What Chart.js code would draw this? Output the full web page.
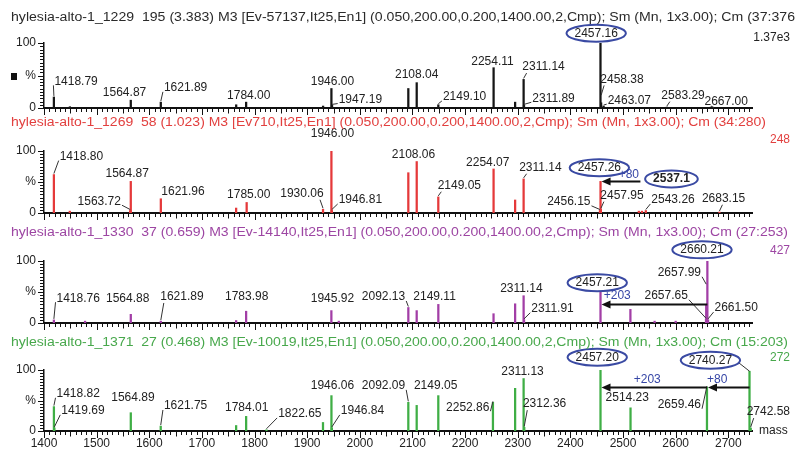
<!DOCTYPE html>
<html><head><meta charset="utf-8">
<script src="https://cdn.jsdelivr.net/npm/chart.js@4.4.0/dist/chart.umd.min.js"></script>
<style>
html,body{margin:0;padding:0;background:#fff;width:796px;height:449px;overflow:hidden;position:relative;}
canvas{position:absolute;left:0;top:0;}
.t{position:absolute;white-space:pre;font-family:"Liberation Sans",Arial,sans-serif;font-size:12px;line-height:14px;transform-origin:0 50%;}
.r{position:absolute;white-space:nowrap;font-family:"Liberation Sans",Arial,sans-serif;font-size:12px;line-height:14px;text-align:right;right:6px;}
</style></head><body>
<div id="root"></div>
<script>
// ---------------- data ----------------
const xTickLabels = [1400,1500,1600,1700,1800,1900,2000,2100,2200,2300,2400,2500,2600,2700];
const yTickValues = [0,50,100];
const yTickLabels = ['0','%','100'];

const titles = [
 'hylesia-alto-1_1229  195 (3.383) M3 [Ev-57137,It25,En1] (0.050,200.00,0.200,1400.00,2,Cmp); Sm (Mn, 1x3.00); Cm (37:376',
 'hylesia-alto-1_1269  58 (1.023) M3 [Ev710,It25,En1] (0.050,200.00,0.200,1400.00,2,Cmp); Sm (Mn, 1x3.00); Cm (34:280)',
 'hylesia-alto-1_1330  37 (0.659) M3 [Ev-14140,It25,En1] (0.050,200.00,0.200,1400.00,2,Cmp); Sm (Mn, 1x3.00); Cm (27:253)',
 'hylesia-alto-1_1371  27 (0.468) M3 [Ev-10019,It25,En1] (0.050,200.00,0.200,1400.00,2,Cmp); Sm (Mn, 1x3.00); Cm (15:203)'
];
const intensityMax = ['1.37e3','248','427','272'];

const masses1 = [1418.79,1449.2,1564.87,1621.89,1765.1,1784.00,1930.2,1946.00,1947.19,2092.1,2108.04,2149.10,2254.11,2295.0,2311.14,2311.89,2457.16,2458.38,2463.07,2583.29,2667.00];
const intens1 = [17,2,12,9,5,9,3,30,4,30,39,5,62,9,44,4,100,8,3,1.5,1.5];
const labels1 = ['1418.79','1564.87','1621.89','1784.00','1946.00','1947.19','2108.04','2149.10','2254.11','2311.14','2311.89','2457.16','2458.38','2463.07','2583.29','2667.00'];

const masses2 = [1418.80,1449.0,1563.72,1564.87,1621.96,1765.0,1785.00,1930.06,1946.00,1946.81,2092.1,2108.06,2149.05,2254.07,2295.0,2311.14,2456.15,2457.26,2457.95,2530.0,2536.0,2543.26,2683.15];
const intens2 = [62,3,4,51,23,8,17,6,100,4,65,83,26,71,21,55,4,51,6,3,3,4,1.5];
const labels2 = ['1418.80','1564.87','1563.72','1621.96','1785.00','1930.06','1946.00','1946.81','2108.06','2149.05','2254.07','2311.14','2457.26','2537.1','2456.15','2457.95','2543.26','2683.15'];

const masses3 = [1418.76,1478.0,1564.88,1621.89,1765.0,1783.98,1945.92,1960.0,2092.13,2108.0,2149.11,2254.0,2295.0,2311.14,2311.91,2457.21,2514.0,2560.0,2600.0,2657.65,2657.99,2660.21,2661.50];
const intens3 = [5,3,14,3,4,19,20,3,25,20,30,15,31,44,5,53,22,3,3,6,30,100,5];
const labels3 = ['1418.76','1564.88','1621.89','1783.98','1945.92','2092.13','2149.11','2311.14','2311.91','2457.21','2657.65','2657.99','2660.21','2661.50'];

const masses4 = [1418.82,1419.69,1564.89,1621.75,1765.0,1784.01,1822.65,1930.0,1946.06,1946.84,2092.09,2108.0,2149.05,2252.86,2295.0,2311.13,2312.36,2457.20,2514.23,2659.46,2740.27,2742.58];
const intens4 = [40,5,30,8,9,24,2,14,58,5,47,42,58,47,70,86,6,100,38,72,98,5];
const labels4 = ['1418.82','1419.69','1564.89','1621.75','1784.01','1822.65','1946.06','1946.84','2092.09','2149.05','2252.86','2311.13','2312.36','2457.20','2514.23','2659.46','2740.27','2742.58'];

// mass differences marked with arrows: [from peak, to peak, label]
const shifts2 = [[2537.1,2457.26,'+80']];
const shifts3 = [[2660.21,2457.21,'+203']];
const shifts4 = [[2659.46,2457.20,'+203'],[2740.27,2659.46,'+80']];

// ---------------- layout (positions / styles) ----------------
const FONT = '"Liberation Sans", Arial, Helvetica, sans-serif';
const X_MIN = 1400, X_MAX = 2745;
const geom = [
 {top:43, bottom:108, titleY:17, maxY:37, titleW:784},
 {top:151, bottom:213, titleY:122, maxY:139, titleW:755},
 {top:261, bottom:323, titleY:232, maxY:250, titleW:777},
 {top:370, bottom:431, titleY:342, maxY:357, titleW:777}
];
const colors = ['#161616','#e5393a','#a23ea6','#3fae45'];
const titleColors = ['#2a2a2a','#e2403f','#9d46a3','#48a84c'];
// label placement: [centre mass, centre %, mode, leader-end %]
const place1 = [[1461,41,'leader'],[1553,23,''],[1669,31,'leader'],[1789,19,''],[1948,41,''],[2001,13,'leader'],[2108,51,''],[2199,17,'leader'],[2252,72,''],[2349,63,'leader'],[2368,15,'leader'],[2449,115,'ellipse'],[2498,44,'leader',18],[2512,12,'leader'],[2614,19,'leader'],[2696,10,'leader']];
const place2 = [[1471,91,'leader'],[1558,64,''],[1505,19,'leader'],[1664,35,''],[1789,29,''],[1890,31,'leader'],[1948,128,''],[2001,21,'leader'],[2102,94,''],[2189,44,'leader'],[2243,81,''],[2343,73,'leader'],[2455,73,'ellipse'],[2592,55,'ellipse bold'],[2397,18,'leader'],[2498,28,'leader'],[2595,21,'leader'],[2691,23,'leader']];
const place3 = [[1465,40,'leader'],[1559,40,''],[1662,42,'leader'],[1785,42,''],[1948,40,''],[2045,42,'leader'],[2142,42,''],[2307,56,''],[2366,23,'leader'],[2451,65,'ellipse'],[2582,44,'leader'],[2607,81,'leader',61],[2650,118,'ellipse'],[2715,24,'leader']];
const place4 = [[1465,61,'leader'],[1474,33,'leader'],[1569,54,''],[1669,41,'leader'],[1785,38,''],[1886,28,'leader'],[1948,74,''],[2005,33,'leader'],[2045,74,'leader'],[2144,74,''],[2205,39,'leader'],[2309,98,''],[2351,44,'leader'],[2451,121,'ellipse'],[2508,54,''],[2607,43,'leader'],[2666,116,'ellipse leader'],[2776,31,'leader']];
// shift arrow placement: [arrow %, text centre mass, text %, arrow start mass override]
const shiftPlace2 = [[51,2511,61,2533]];
const shiftPlace3 = [[31,2489,44]];
const shiftPlace4 = [[72,2546,84],[72,2679,84]];

const panels = [
 {masses:masses1,intens:intens1,labels:labels1,place:place1,shifts:[],shiftPlace:[]},
 {masses:masses2,intens:intens2,labels:labels2,place:place2,shifts:shifts2,shiftPlace:shiftPlace2},
 {masses:masses3,intens:intens3,labels:labels3,place:place3,shifts:shifts3,shiftPlace:shiftPlace3},
 {masses:masses4,intens:intens4,labels:labels4,place:place4,shifts:shifts4,shiftPlace:shiftPlace4}
];

const overlay = {
  id:'overlay',
  afterDraw(chart, args, opts){
    const p = panels[opts.idx];
    const ctx = chart.ctx, xs = chart.scales.x, ys = chart.scales.y;
    const X = v => xs.getPixelForValue(v), Y = v => ys.getPixelForValue(v);
    const base = Y(0);
    ctx.save();
    // minor / major tick marks
    ctx.strokeStyle = '#111'; ctx.lineWidth = 1;
    for (let v = X_MIN; v <= X_MAX; v += 10) {
      const len = v % 100 === 0 ? 6 : (v % 50 === 0 ? 4.5 : 3);
      const x = Math.round(X(v)) + 0.5;
      ctx.beginPath(); ctx.moveTo(x, base + 1); ctx.lineTo(x, base + 1 + len); ctx.stroke();
    }
    for (let v = 0; v <= 100; v += 5) {
      const len = v % 50 === 0 ? 5 : 3;
      const y = Math.round(Y(v)) + 0.5;
      ctx.beginPath(); ctx.moveTo(xs.left - 1, y); ctx.lineTo(xs.left - 1 - len, y); ctx.stroke();
    }
    // peak labels (ellipses drawn first so the shift text can sit on top of their edge)
    ctx.textAlign = 'center'; ctx.textBaseline = 'middle';
    p.labels.forEach((txt, i) => {
      const [cx, cy, mode, lend] = p.place[i];
      const tx = X(cx), ty = Y(cy);
      const bold = mode.indexOf('bold') >= 0;
      ctx.font = (bold ? 'bold ' : '') + '12px ' + FONT;
      const w = ctx.measureText(txt).width;
      const m = parseFloat(txt);
      const k = p.masses.indexOf(m);
      if (mode.indexOf('ellipse') >= 0) {
        const rx = w / 2 + 8, ry = 8.5;
        if (mode.indexOf('leader') >= 0 && k >= 0) {
          ctx.strokeStyle = '#333'; ctx.lineWidth = 1;
          ctx.beginPath(); ctx.moveTo(tx + rx - 2, ty + 2); ctx.lineTo(X(m), Y(p.intens[k])); ctx.stroke();
        }
        ctx.beginPath(); ctx.ellipse(tx, ty, rx, ry, 0, 0, Math.PI * 2);
        ctx.fillStyle = '#fff'; ctx.fill();
        ctx.strokeStyle = '#3a4aa3'; ctx.lineWidth = 2; ctx.stroke();
      } else if (mode.indexOf('leader') >= 0 && k >= 0) {
        const px = X(m), py = Y(lend !== undefined ? lend : p.intens[k]) - 1;
        const l = tx - w / 2, r = tx + w / 2;
        let sx, sy;
        if (px < l) { sx = l - 1; sy = ty + 4; }
        else if (px > r) { sx = r + 1; sy = ty + 4; }
        else { sx = px + (px < tx ? 3 : -3); sy = ty + 6; }
        ctx.strokeStyle = '#333'; ctx.lineWidth = 1;
        ctx.beginPath(); ctx.moveTo(sx, sy); ctx.lineTo(px, py); ctx.stroke();
      }
      ctx.fillStyle = '#222';
      ctx.fillText(txt, tx, ty);
    });
    // shift arrows
    p.shifts.forEach((s, i) => {
      const sp = p.shiftPlace[i];
      const x1 = X(sp[3] !== undefined ? sp[3] : s[0]), x2 = X(s[1]), y = Math.round(Y(sp[0])) + 0.5;
      ctx.strokeStyle = '#111'; ctx.fillStyle = '#111'; ctx.lineWidth = 2;
      ctx.beginPath(); ctx.moveTo(x1, y); ctx.lineTo(x2 + 6, y); ctx.stroke();
      ctx.beginPath(); ctx.moveTo(x2 + 1, y); ctx.lineTo(x2 + 10, y - 4); ctx.lineTo(x2 + 10, y + 4); ctx.closePath(); ctx.fill();
      ctx.font = '12px ' + FONT; ctx.fillStyle = '#3646a6'; ctx.textAlign = 'center'; ctx.textBaseline = 'middle';
      ctx.fillText(s[2], X(sp[1]), Y(sp[2]));
    });
    if (opts.idx === 3) {
      ctx.font = '12px ' + FONT; ctx.fillStyle = '#222'; ctx.textAlign = 'left'; ctx.textBaseline = 'middle';
      ctx.fillText('mass', xs.right + 7, base);
    }
    ctx.restore();
  }
};

const root = document.getElementById('root');
const RIGHT = 752;
panels.forEach((p, i) => {
  const g = geom[i];
  const cv = document.createElement('canvas');
  cv.width = 796; cv.height = 449; cv.style.width = '796px'; cv.style.height = '449px';
  root.appendChild(cv);
  const last = i === 3;
  const xh = last ? 18 : 0;
  new Chart(cv.getContext('2d'), {
    type: 'bar',
    data: { datasets: [{ data: p.masses.map((m, k) => ({ x: m, y: p.intens[k] })), backgroundColor: colors[i], borderWidth: 0, barThickness: 1.6, grouped: false }] },
    options: {
      responsive: false, animation: false, devicePixelRatio: 1, events: [],
      layout: { padding: { left: 0, right: 796 - RIGHT, top: g.top, bottom: 449 - g.bottom - xh } },
      plugins: { legend: { display: false }, tooltip: { enabled: false }, overlay: { idx: i } },
      scales: {
        x: {
          type: 'linear', min: X_MIN, max: X_MAX, offset: false,
          grid: { display: false, drawTicks: false, offset: false },
          border: { display: true, color: '#111', width: 2 },
          ticks: { display: last, color: '#222', font: { family: FONT, size: 12 }, padding: 5, maxRotation: 0, autoSkip: false,
                   callback: v => String(v) },
          afterBuildTicks: s => { s.ticks = xTickLabels.map(v => ({ value: v })); },
          afterFit: s => { s.height = xh; s.paddingLeft = 0; s.paddingRight = 0; }
        },
        y: {
          min: 0, max: 100,
          grid: { display: false, drawTicks: false },
          border: { display: true, color: '#111', width: 1.5 },
          ticks: { color: '#222', font: { family: FONT, size: 12 }, padding: 8,
                   callback: v => { const j = yTickValues.indexOf(v); return j >= 0 ? yTickLabels[j] : ''; } },
          afterBuildTicks: s => { s.ticks = yTickValues.map(v => ({ value: v })); },
          afterFit: s => { s.width = 44; s.paddingTop = 0; s.paddingBottom = 0; }
        }
      }
    },
    plugins: [overlay]
  });
  const t = document.createElement('div');
  t.className = 't'; t.textContent = titles[i]; t.style.color = titleColors[i];
  t.style.left = '11px'; t.style.top = (g.titleY - 7) + 'px';
  document.body.appendChild(t);
  const w = t.getBoundingClientRect().width;
  t.style.transform = 'scaleX(' + (g.titleW / w) + ')';
  const r = document.createElement('div');
  r.className = 'r'; r.textContent = intensityMax[i]; r.style.color = i === 0 ? '#222' : titleColors[i];
  r.style.top = (g.maxY - 7) + 'px';
  document.body.appendChild(r);
});
const sq = document.createElement('div');
sq.style.cssText = 'position:absolute;left:11px;top:73px;width:6px;height:7px;background:#111;';
document.body.appendChild(sq);
</script>
</body></html>
